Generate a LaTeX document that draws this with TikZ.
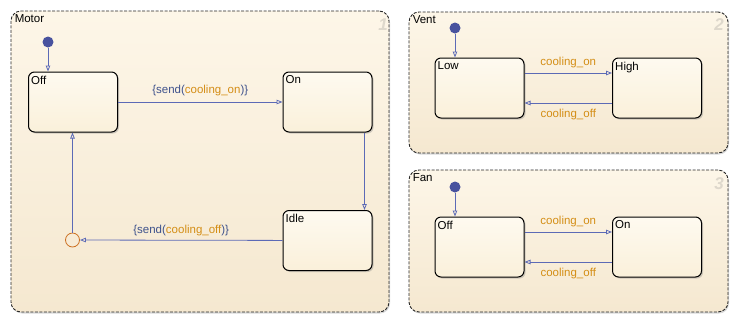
\documentclass[tikz,border=0pt]{standalone}
\usepackage{fontspec}
\setmainfont{Liberation Sans}
\usetikzlibrary{
    arrows.meta,  % For arrow tips
    calc,         % For coordinate calculations
    positioning,  % For relative placement
    shadows       % For drop shadows
}
\definecolor{chartfill}{RGB}{253,246,232}
\definecolor{chartfillb}{RGB}{245,232,208}
\definecolor{statefill}{RGB}{254,250,240}
\definecolor{statefillb}{RGB}{250,240,218}
\definecolor{transblue}{RGB}{92,106,182}
\definecolor{dotblue}{RGB}{72,82,158}
\definecolor{sendblue}{RGB}{62,82,140}
\definecolor{evorange}{RGB}{212,142,22}
\definecolor{junctorange}{RGB}{204,112,34}
\definecolor{numgrey}{RGB}{222,216,204}

\begin{document}
\begin{tikzpicture}[
    x=1pt, y=-1pt, % pixel-like coordinates, y pointing down
    font=\fontsize{11.5}{13}\selectfont,
    chart/.style={draw=black!85, line width=0.9pt, dash pattern=on 3pt off 1.5pt,
        rounded corners=10pt,
        top color=chartfill, bottom color=chartfillb,
        drop shadow={shadow xshift=1pt, shadow yshift=-1.5pt, opacity=0.3},
        inner sep=0pt}, % Style for parallel charts
    state/.style={draw=black, rounded corners=6pt, line width=1pt,
        top color=statefill, bottom color=statefillb,
        minimum width=89pt, minimum height=60pt, inner sep=0pt,
        drop shadow={shadow xshift=1.5pt, shadow yshift=-1.5pt, opacity=0.35}}, % Style for states
    trans/.style={transblue, thick, -{Triangle[open, length=6pt, width=4.5pt]}}, % Style for transitions
    init/.style={circle, fill=dotblue, inner sep=0pt, minimum size=11pt}, % Default transition dot
    junct/.style={circle, draw=junctorange, thick, inner sep=0pt, minimum size=14pt}, % Junction
    title/.style={anchor=north west, inner sep=1pt}, % Chart and state names
    num/.style={numgrey, font=\fontsize{17}{17}\selectfont\bfseries\itshape}, % Chart number
    event/.style={evorange}, % Event labels
]
    \useasboundingbox (0,0) rectangle (738,322);

    % Charts
    \node[chart, minimum width=378pt, minimum height=301pt] (motor) at (200,161.5) {};
    \node[chart, minimum width=319pt, minimum height=141pt] (vent) at (568.5,82.5) {};
    \node[chart, minimum width=319pt, minimum height=142pt] (fan) at (568.5,241) {};

    \node[title] (motortitle) at ($(motor.north west)+(3,3)$) {Motor};
    \node[title] (venttitle) at ($(vent.north west)+(3,3)$) {Vent};
    \node[title] (fantitle) at ($(fan.north west)+(3,3)$) {Fan};
    \node[num] (motornum) at (383,25) {1};
    \node[num] (ventnum) at (719,25) {2};
    \node[num] (fannum) at (719,184) {3};

    % Motor
    \node[state] (moff) at (73,102) {};
    \node[state] (mon) at (327.5,102) {};
    \node[state] (idle) at (327.5,240.5) {};
    \node[title] (mofftitle) at ($(moff.north west)+(2,3)$) {Off};
    \node[title] (montitle) at ($(mon.north west)+(2,3)$) {On};
    \node[title] (idletitle) at ($(idle.north west)+(2,3)$) {Idle};
    \node[init] (minit) at (48,42) {};
    \node[junct] (junc) at (72.5,240) {};

    \draw[trans] (minit) -- (minit |- moff.north);
    \draw[trans] (moff) -- node[above=2pt] (lblon) {\textcolor{sendblue}{\{send(}\textcolor{evorange}{cooling\_on}\textcolor{sendblue}{)\}}} (mon);
    \draw[trans] ($(mon.south east)+(-8,0)$) -- ($(idle.north east)+(-8,0)$);
    \draw[trans] (idle) -- node[above=1pt] (lbloff) {\textcolor{sendblue}{\{send(}\textcolor{evorange}{cooling\_off}\textcolor{sendblue}{)\}}} (junc);
    \draw[trans] (junc) -- (junc |- moff.south);

    % Vent
    \node[state] (low) at (479.5,88) {};
    \node[state] (high) at (657,88) {};
    \node[title] (lowtitle) at ($(low.north west)+(2,3)$) {Low};
    \node[title] (hightitle) at ($(high.north west)+(2,3)$) {High};
    \node[init] (vinit) at (455,28) {};

    \draw[trans] (vinit) -- (vinit |- low.north);
    \draw[trans] ($(low.east)+(0,-15)$) -- node[above=1pt, event] (ventonlbl) {cooling\_on} ($(high.west)+(0,-15)$);
    \draw[trans] ($(high.west)+(0,15)$) -- node[below=2pt, event] (ventofflbl) {cooling\_off} ($(low.east)+(0,15)$);

    % Fan
    \node[state] (foff) at (479.5,247) {};
    \node[state] (fon) at (657,247) {};
    \node[title] (fofftitle) at ($(foff.north west)+(2,3)$) {Off};
    \node[title] (fontitle) at ($(fon.north west)+(2,3)$) {On};
    \node[init] (finit) at (455,187) {};

    \draw[trans] (finit) -- (finit |- foff.north);
    \draw[trans] ($(foff.east)+(0,-15)$) -- node[above=1pt, event] (fanonlbl) {cooling\_on} ($(fon.west)+(0,-15)$);
    \draw[trans] ($(fon.west)+(0,15)$) -- node[below=2pt, event] (fanofflbl) {cooling\_off} ($(foff.east)+(0,15)$);

\end{tikzpicture}
\end{document}
